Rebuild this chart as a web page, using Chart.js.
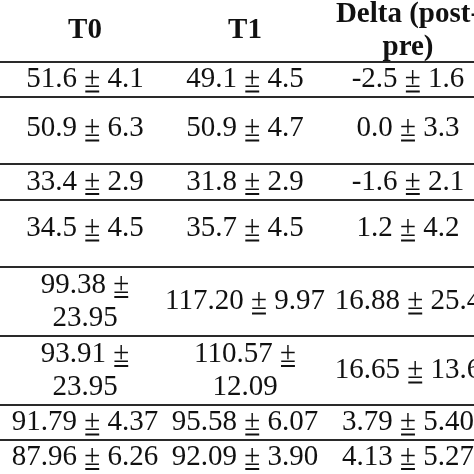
<!DOCTYPE html>
<html><head><meta charset="utf-8">
<script src="https://cdn.jsdelivr.net/npm/chart.js@4"></script>
<style>html,body{margin:0;padding:0;background:#fff}#w{width:474px;height:474px}</style>
</head><body><div id="w"><canvas id="c"></canvas></div>
<script>
const headers = [["T0"], ["T1"], ["Delta (post-", "pre)"]];
const colT0 = [["51.6 ± 4.1"], ["50.9 ± 6.3"], ["33.4 ± 2.9"], ["34.5 ± 4.5"], ["99.38 ±", "23.95"], ["93.91 ±", "23.95"], ["91.79 ± 4.37"], ["87.96 ± 6.26"]];
const colT1 = [["49.1 ± 4.5"], ["50.9 ± 4.7"], ["31.8 ± 2.9"], ["35.7 ± 4.5"], ["117.20 ± 9.97"], ["110.57 ±", "12.09"], ["95.58 ± 6.07"], ["92.09 ± 3.90"]];
const colDelta = [["-2.5 ± 1.6"], ["0.0 ± 3.3"], ["-1.6 ± 2.1"], ["1.2 ± 4.2"], ["16.88 ± 25.4"], ["16.65 ± 13.6"], ["3.79 ± 5.40"], ["4.13 ± 5.27"]];
const rowBounds = [0, 62, 97, 164, 200, 267, 336, 405, 440, 474];
const colCenters = [85, 245, 408];
const rowCenterAdj = [0, 0, -2, 0, -5, 0, 0, 0, 0];

const columns = [colT0, colT1, colDelta];
const lineSets = rowBounds.slice(1, -1).map(y => ({type:'line', data:[{x:0,y:y},{x:474,y:y}], borderColor:'#2a2a2a', borderWidth:2, pointRadius:0}));

const tablePlugin = {
  id:'table',
  afterDatasetsDraw(chart){
    const ctx = chart.ctx, xs = chart.scales.x, ys = chart.scales.y;
    function cell(lines, colIdx, rowIdx, bold){
      const cx = xs.getPixelForValue(colCenters[colIdx]);
      const mid = (rowBounds[rowIdx] + rowBounds[rowIdx+1]) / 2 + rowCenterAdj[rowIdx];
      const lh = 33;
      ctx.save();
      ctx.font = (bold ? 'bold 29px ' : '29px ') + '"Liberation Serif", "DejaVu Serif", serif';
      ctx.fillStyle = '#111'; ctx.textBaseline = 'middle'; ctx.textAlign = 'left';
      lines.forEach((t, i) => {
        const y = ys.getPixelForValue(mid + (i - (lines.length - 1) / 2) * lh);
        const w = ctx.measureText(t).width;
        const x0 = cx - w / 2;
        ctx.fillText(t, x0, y);
        const k = t.indexOf('±');
        if (k >= 0) {
          const a = x0 + ctx.measureText(t.slice(0, k)).width;
          const pw = ctx.measureText('±').width;
          ctx.fillRect(a + 1, y + 11, pw - 2, 2);
        }
      });
      ctx.restore();
    }
    headers.forEach((h, c) => cell(h, c, 0, true));
    columns.forEach((col, c) => col.forEach((v, r) => cell(v, c, r + 1, false)));
  }
};

new Chart(document.getElementById('c'), {
  type:'scatter',
  data:{datasets: lineSets},
  options:{
    responsive:true, maintainAspectRatio:false, animation:false,
    layout:{padding:0},
    plugins:{legend:{display:false}, tooltip:{enabled:false}},
    scales:{
      x:{type:'linear', min:0, max:474, display:false},
      y:{type:'linear', min:0, max:474, reverse:true, display:false}
    }
  },
  plugins:[tablePlugin]
});
</script></body></html>
